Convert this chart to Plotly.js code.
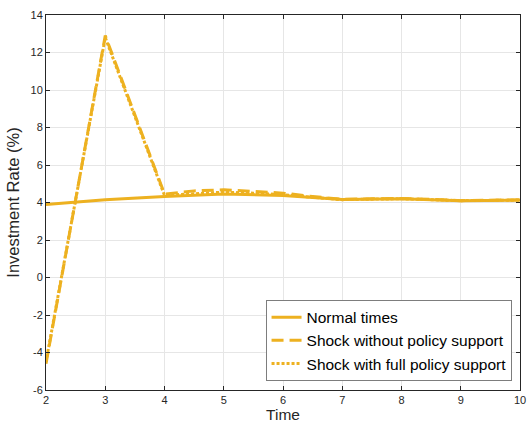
<!DOCTYPE html>
<html>
<head>
<meta charset="utf-8">
<script src="https://cdn.plot.ly/plotly-3.0.1.min.js"></script>
<style>html,body{margin:0;padding:0;background:#fff;}#chart{width:527px;height:426px;}</style>
</head>
<body>
<div id="chart"></div>
<script>
// Time grid
const timeNormal = [2, 3, 4, 5, 6, 7, 8, 9, 10];
const normalTimes = [3.9, 4.15, 4.32, 4.45, 4.38, 4.16, 4.2, 4.1, 4.13];

const timeShock = [2, 3, 4, 4.5, 5, 5.5, 6, 6.5, 7, 7.5, 8, 8.5, 9, 9.5, 10];
const shockNoPolicy = [-4.6, 12.9, 4.45, 4.62, 4.68, 4.6, 4.5, 4.32, 4.17, 4.2, 4.22, 4.17, 4.1, 4.12, 4.14];
const shockFullPolicy = [-4.5, 12.8, 4.38, 4.48, 4.55, 4.5, 4.42, 4.28, 4.15, 4.18, 4.2, 4.15, 4.1, 4.11, 4.13];

const seriesNames = ['Normal times', 'Shock without policy support', 'Shock with full policy support'];
const xTicks = [2, 3, 4, 5, 6, 7, 8, 9, 10];
const yTicks = [-6, -4, -2, 0, 2, 4, 6, 8, 10, 12, 14];
const yTickText = ['-6', '-4', '-2', '0', '2', '4', '6', '8', '10', '12', '14'];

const col = '#EDB120';
const fam = 'Liberation Sans, Arial, Helvetica, sans-serif';
const traces = [
  {x: timeNormal, y: normalTimes, name: seriesNames[0], mode: 'lines', line: {color: col, width: 3}},
  {x: timeShock, y: shockNoPolicy, name: seriesNames[1], mode: 'lines', line: {color: col, width: 3, dash: '12px,6px'}},
  {x: timeShock, y: shockFullPolicy, name: seriesNames[2], mode: 'lines', line: {color: col, width: 3, dash: '3px,2px'}}
];

const axisCommon = {
  showline: true, linecolor: '#262626', linewidth: 1, mirror: 'ticks',
  ticks: 'inside', ticklen: 4, tickcolor: '#262626',
  showgrid: true, gridcolor: '#e6e6e6', gridwidth: 1, zeroline: false,
  tickfont: {family: fam, size: 11, color: '#262626'}
};

const layout = {
  width: 527, height: 426,
  margin: {l: 46, r: 7, t: 15, b: 36},
  paper_bgcolor: '#ffffff', plot_bgcolor: '#ffffff',
  showlegend: true,
  xaxis: Object.assign({}, axisCommon, {
    range: [2, 10], tickvals: xTicks,
    title: {text: 'Time', font: {family: fam, size: 15.5, color: '#262626'}, standoff: 2}
  }),
  yaxis: Object.assign({}, axisCommon, {
    range: [-6, 14], tickvals: yTicks, ticktext: yTickText,
    title: {text: 'Investment Rate (%)', font: {family: fam, size: 16.5, color: '#262626'}, standoff: 6}
  }),
  legend: {
    x: 0.983, xanchor: 'right', y: 0.024, yanchor: 'bottom',
    bgcolor: '#ffffff', bordercolor: '#262626', borderwidth: 0.6,
    font: {family: fam, size: 15.5, color: '#000'},
    tracegroupgap: 0, itemwidth: 30
  }
};

Plotly.newPlot('chart', traces, layout, {displayModeBar: false, staticPlot: true});
</script>
</body>
</html>
